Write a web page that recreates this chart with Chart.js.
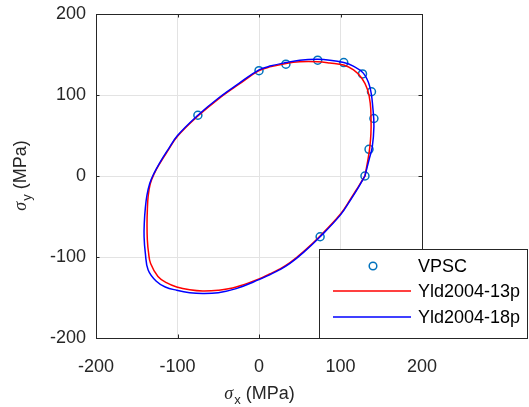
<!DOCTYPE html>
<html>
<head>
<meta charset="utf-8">
<script src="https://cdn.jsdelivr.net/npm/chart.js@4"></script>
<style>
  html, body { margin: 0; padding: 0; background: #fff; }
  #wrap { width: 529px; height: 407px; position: relative; }
</style>
</head>
<body>
<div id="wrap"><canvas id="c" width="529" height="407"></canvas></div>
<script>
// tick values shared by both axes
const tickValues = [-200, -100, 0, 100, 200];

// VPSC points
const vpscX = [-75, 0, 33, 72, 104, 127, 138, 141, 135, 130, 75];
const vpscY = [75, 130, 138, 143, 140, 126, 104, 71, 33, 0, -75];

// Yld2004-13p (red)
const yld13X = [130, 134, 136, 137.3, 137.5, 136.5, 133, 126, 116, 104, 87, 72, 50, 33, 15, 0, -25, -50, -75, -100, -112, -122, -129, -133.5, -136, -137, -137.4, -137, -135.5, -133, -124, -113, -101, -85, -69, -50, -28, 0, 13, 25, 38, 55, 75, 100, 112, 122, 130];
const yld13Y = [0, 22, 36, 52, 70, 90, 107, 121, 131, 137, 139.5, 141, 141, 139, 135, 130, 113, 95, 74, 49, 31, 15, 2, -10, -25, -42, -60, -79, -95, -108, -124, -132, -137, -140.5, -142, -141, -137, -127, -121, -115, -107, -93, -74, -47, -29, -13, 0];

// Yld2004-18p (blue)
const yld18X = [130, 135, 139, 141, 140, 136, 128, 115, 104, 87, 72, 50, 33, 15, 0, -25, -50, -75, -100, -112, -122, -129, -134, -137.5, -139.5, -140.7, -141, -139.5, -136, -126, -115, -101, -85, -69, -50, -28, 0, 13, 25, 38, 55, 75, 100, 112, 122, 130];
const yld18Y = [0, 20, 36, 61, 81, 110, 127, 136, 140, 143, 144, 143, 140, 136, 131, 114, 96, 75, 50, 32, 16, 3, -9, -24, -40, -57, -75, -95, -116, -130, -137, -141, -144, -145, -144, -139, -128, -122, -116, -108, -94, -75, -48, -30, -14, 0];

const toPts = (xs, ys) => xs.map((x, i) => ({ x: x, y: ys[i] }));

const FONT = "'Liberation Sans', Arial, sans-serif";
const AXIS_COLOR = "#262626";

// box, inward ticks, axis titles and legend, drawn MATLAB style
const matlabDecor = {
	id: "matlabDecor",
	afterDraw(chart) {
		const ctx = chart.ctx;
		const a = chart.chartArea;
		const xs = chart.scales.x;
		const ys = chart.scales.y;
		ctx.save();
		ctx.strokeStyle = AXIS_COLOR;
		ctx.lineWidth = 1;
		ctx.strokeRect(Math.round(a.left) + 0.5, Math.round(a.top) + 0.5,
			Math.round(a.right - a.left), Math.round(a.bottom - a.top));
		const tl = 3.5;
		ctx.beginPath();
		tickValues.forEach((v) => {
			const px = Math.round(xs.getPixelForValue(v)) + 0.5;
			ctx.moveTo(px, a.bottom); ctx.lineTo(px, a.bottom - tl);
			ctx.moveTo(px, a.top); ctx.lineTo(px, a.top + tl);
			const py = Math.round(ys.getPixelForValue(v)) + 0.5;
			ctx.moveTo(a.left, py); ctx.lineTo(a.left + tl, py);
			ctx.moveTo(a.right, py); ctx.lineTo(a.right - tl, py);
		});
		ctx.stroke();

		// axis titles: sigma with subscript
		function sigmaTitle(sub, cx, cy) {
			ctx.textBaseline = "alphabetic";
			ctx.fillStyle = AXIS_COLOR;
			const sig = "σ";
			const rest = " (MPa)";
			ctx.font = "italic 18px 'Liberation Serif', 'DejaVu Serif', serif";
			const w1 = ctx.measureText(sig).width;
			ctx.font = "13px " + FONT;
			const w2 = ctx.measureText(sub).width;
			ctx.font = "18px " + FONT;
			const w3 = ctx.measureText(rest).width;
			let x = cx - (w1 + w2 + w3) / 2;
			ctx.textAlign = "left";
			ctx.font = "italic 18px 'Liberation Serif', 'DejaVu Serif', serif";
			ctx.fillText(sig, x, cy);
			x += w1 + 1;
			ctx.font = "13px " + FONT;
			ctx.fillText(sub, x, cy + 5);
			x += w2;
			ctx.font = "18px " + FONT;
			ctx.fillText(rest, x, cy);
		}
		sigmaTitle("x", (a.left + a.right) / 2, 399);
		ctx.save();
		ctx.translate(26, (a.top + a.bottom) / 2);
		ctx.rotate(-Math.PI / 2);
		sigmaTitle("y", 0, 0);
		ctx.restore();

		// legend box
		const lx = 319, ly = 249, lw = 209, lh = 90;
		ctx.fillStyle = "#fff";
		ctx.fillRect(lx, ly, lw, lh);
		ctx.strokeStyle = AXIS_COLOR;
		ctx.lineWidth = 1;
		ctx.strokeRect(lx + 0.5, ly + 0.5, lw - 1, lh - 1);
		const ds = chart.data.datasets;
		const rows = [266, 291, 317];
		ctx.font = "18px " + FONT;
		ctx.textAlign = "left";
		ctx.textBaseline = "middle";
		ds.forEach((d, r) => {
			const y = rows[r];
			ctx.strokeStyle = d.borderColor;
			ctx.lineWidth = 1.5;
			ctx.beginPath();
			if (d.showLine) {
				ctx.moveTo(333, y); ctx.lineTo(411, y);
			} else {
				ctx.arc(373, y, 3.8, 0, Math.PI * 2);
			}
			ctx.stroke();
			ctx.fillStyle = "#000";
			ctx.fillText(d.label, 418, y + 1);
		});
		ctx.restore();
	},
};

new Chart(document.getElementById("c").getContext("2d"), {
	type: "scatter",
	data: {
		datasets: [
			{
				label: "VPSC",
				data: toPts(vpscX, vpscY),
				borderColor: "#0072BD",
				backgroundColor: "rgba(0,0,0,0)",
				borderWidth: 1.5,
				pointRadius: 4,
				showLine: false,
				order: 3,
			},
			{
				label: "Yld2004-13p",
				data: toPts(yld13X, yld13Y),
				borderColor: "#FF0000",
				borderWidth: 1.5,
				pointRadius: 0,
				showLine: true,
				tension: 0.4,
				order: 2,
			},
			{
				label: "Yld2004-18p",
				data: toPts(yld18X, yld18Y),
				borderColor: "#0000FF",
				borderWidth: 1.5,
				pointRadius: 0,
				showLine: true,
				tension: 0.4,
				order: 1,
			},
		],
	},
	options: {
		responsive: false,
		animation: false,
		layout: { autoPadding: false, padding: { top: 14, right: 107, left: 0, bottom: 0 } },
		plugins: {
			legend: { display: false },
			tooltip: { enabled: false },
		},
		scales: {
			x: {
				type: "linear",
				min: -200,
				max: 200,
				afterBuildTicks: (s) => { s.ticks = tickValues.map((v) => ({ value: v })); },
				afterFit: (s) => { s.height = 69; },
				grid: { color: "#e3e3e3", drawTicks: false, lineWidth: 1 },
				border: { display: false },
				ticks: { color: AXIS_COLOR, font: { size: 18, family: FONT }, padding: 18, maxRotation: 0 },
			},
			y: {
				type: "linear",
				min: -200,
				max: 200,
				afterBuildTicks: (s) => { s.ticks = tickValues.map((v) => ({ value: v })); },
				afterFit: (s) => { s.width = 96; s.paddingTop = 0; s.paddingBottom = 0; },
				grid: { color: "#e3e3e3", drawTicks: false, lineWidth: 1 },
				border: { display: false },
				ticks: { color: AXIS_COLOR, font: { size: 18, family: FONT, lineHeight: 0.3 }, padding: 10 },
			},
		},
	},
	plugins: [matlabDecor],
});
</script>
</body>
</html>
